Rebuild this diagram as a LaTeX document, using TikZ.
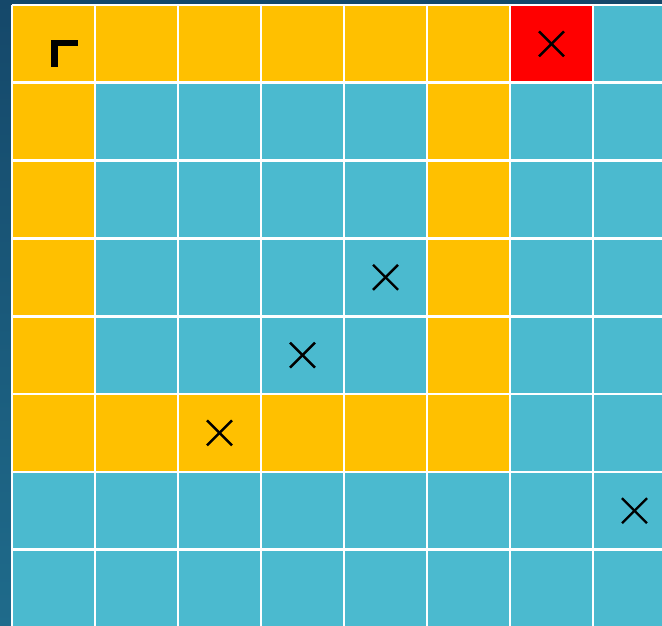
\documentclass[tikz,border=0pt]{standalone}
\definecolor{bgtop}{HTML}{15486A}
\definecolor{bgbot}{HTML}{1F6B8B}
\definecolor{gold}{HTML}{FFC000}
\definecolor{teal}{HTML}{4BBACF}
\definecolor{hit}{HTML}{FF0000}
\tikzset{
  cellbox/.style={fill=teal},
  goldbox/.style={fill=gold},
  redbox/.style={fill=hit},
  gridline/.style={white,line width=2.6pt},
  xmark/.style={black,line width=2.4pt}
}
\begin{document}
\begin{tikzpicture}[x=1pt,y=-1pt]
\useasboundingbox (0,0) rectangle (662,626);
\shade[top color=bgtop,bottom color=bgbot] (0,0) rectangle (662,626);
\def\xo{12}\def\yo{5}\def\cw{83}\def\ch{77.8}
% base teal area
\fill[teal] (\xo,\yo) rectangle (676,630);
% gold cells
\foreach \c in {0,...,5} {
  \fill[gold] (\xo+\c*\cw,\yo) rectangle ++(\cw,\ch);
  \fill[gold] (\xo+\c*\cw,\yo+5*\ch) rectangle ++(\cw,\ch);
}
\foreach \r in {1,...,4} {
  \fill[gold] (\xo,\yo+\r*\ch) rectangle ++(\cw,\ch);
  \fill[gold] (\xo+5*\cw,\yo+\r*\ch) rectangle ++(\cw,\ch);
}
\fill[hit] (\xo+6*\cw,\yo) rectangle ++(\cw,\ch);
% grid lines
\foreach \c in {0,...,8} \draw[gridline] (\xo+\c*\cw,\yo) -- (\xo+\c*\cw,640);
\foreach \r in {0,...,8} \draw[gridline] (\xo,\yo+\r*\ch) -- (680,\yo+\r*\ch);
% X marks (col,row)
\foreach \c/\r in {6/0,4/3,3/4,2/5,7/6} {
  \draw[xmark] (\xo+\c*\cw+\cw/2-12.5,\yo+\r*\ch+\ch/2-12.5) -- ++(25,25);
  \draw[xmark] (\xo+\c*\cw+\cw/2-12.5,\yo+\r*\ch+\ch/2+12.5) -- ++(25,-25);
}
% corner marker
\fill[black] (51,40.5) rectangle (78,46.5);
\fill[black] (51,40.5) rectangle (57.5,67.5);
\end{tikzpicture}
\end{document}
